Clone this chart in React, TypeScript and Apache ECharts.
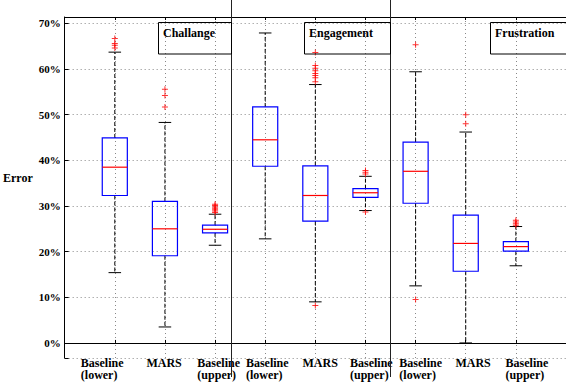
import { useEffect, useRef } from 'react';
import * as echarts from 'echarts';

// ---------- data ----------
const panelTitles = ['Challange', 'Engagement', 'Frustration'];
const groupLabels = ['Baseline\n(lower)', 'MARS', 'Baseline\n(upper)'];
const categories = [...groupLabels, ...groupLabels, ...groupLabels];

const lowerWhisker = [15.4, 3.5, 21.4, 22.8, 9.0, 29.0, 12.5, 0.0, 16.9];
const q1 = [32.3, 19.1, 24.1, 38.7, 26.7, 31.9, 30.6, 15.7, 20.1];
const median = [38.5, 25.0, 24.9, 44.5, 32.3, 32.9, 37.6, 21.8, 21.1];
const q3 = [44.9, 31.0, 25.8, 51.7, 38.8, 33.8, 44.0, 28.0, 22.2];
const upperWhisker = [63.7, 48.3, 28.2, 67.9, 56.6, 36.5, 59.4, 46.2, 25.5];
const outliers: number[][] = [
  [64.6, 65.2, 65.6, 66.7],
  [51.7, 54.2, 55.6],
  [28.6, 28.9, 29.2, 29.5, 29.8, 30.1, 30.4],
  [],
  [8.2, 57.2, 58.1, 58.6, 59.0, 59.6, 60.2, 60.8, 63.6],
  [28.7, 37.0, 37.4, 37.8],
  [9.5, 65.3],
  [48.0, 50.0],
  [25.8, 26.1, 26.5, 26.9],
];
const yTickValues = [0, 10, 20, 30, 40, 50, 60, 70];

// ---------- layout ----------
const W = 566;
const H = 390;
const FONT = 'Liberation Serif';
const GRID_LEFT = 48;
const GRID_TOP = 17;
const GRID_W = 522;
const GRID_H = 341;
const X_MAX = 10;
const Y_MIN = -3.3;
const Y_MAX = 71.4;
const BOX_HALF = 0.25;
const CAP_HALF = 0.125;
// left edge of each category label block relative to the box centre (px)
const labelDx = [-34, -18.5, -17.7, -19.3, -12.8, -15.5, -16.3, -10.3, -10.3];
const dividerX = [231.5, 390.5];
const titleBoxes = [
  { x: 158.5, w: 73 },
  { x: 304.5, w: 86 },
  { x: 490.5, w: 100 },
];

export default function App() {
  const ref = useRef<HTMLDivElement>(null);

  useEffect(() => {
    if (!ref.current) return;
    const chart = echarts.init(ref.current, null, { renderer: 'svg' });

    const boxData = categories.map((_, i) => [
      i + 1,
      lowerWhisker[i],
      q1[i],
      median[i],
      q3[i],
      upperWhisker[i],
    ]);
    const outlierData: number[][] = [];
    outliers.forEach((arr, i) => arr.forEach((v) => outlierData.push([i + 1, v])));

    const graphic: any[] = [];
    dividerX.forEach((x) => {
      graphic.push({
        type: 'line',
        shape: { x1: x, y1: 0, x2: x, y2: 377 },
        style: { stroke: '#222', lineWidth: 1 },
        z: 100,
      });
    });
    panelTitles.forEach((t, i) => {
      const b = titleBoxes[i];
      graphic.push({
        type: 'rect',
        shape: { x: b.x, y: 22.5, width: b.w, height: 31.5 },
        style: { fill: 'none', stroke: '#000', lineWidth: 1 },
        z: 100,
      });
      graphic.push({
        type: 'text',
        x: b.x + 4.5,
        y: 32.5,
        style: {
          text: t,
          fill: '#000',
          fontSize: 12,
          fontWeight: 'bold',
          fontFamily: FONT,
          verticalAlign: 'middle',
          align: 'left',
        },
        z: 100,
      });
    });

    const option: any = {
      animation: false,
      backgroundColor: '#fff',
      textStyle: { fontFamily: FONT },
      grid: { left: GRID_LEFT, top: GRID_TOP, width: GRID_W, height: GRID_H, containLabel: false },
      xAxis: [
        {
          type: 'value',
          min: 0,
          max: X_MAX,
          interval: 1,
          axisLine: { show: true, lineStyle: { color: '#000', width: 1 } },
          axisTick: { show: true, inside: true, length: 3, lineStyle: { color: '#000' } },
          splitLine: { show: true, lineStyle: { color: '#888', type: [1, 3], width: 1 } },
          axisLabel: { show: false },
        },
        {
          type: 'value',
          position: 'top',
          min: 0,
          max: X_MAX,
          interval: 1,
          axisLine: { show: true, lineStyle: { color: '#000', width: 1 } },
          axisTick: { show: true, inside: true, length: 3, lineStyle: { color: '#000' } },
          splitLine: { show: false },
          axisLabel: { show: false },
        },
      ],
      yAxis: {
        type: 'value',
        min: Y_MIN,
        max: Y_MAX,
        splitNumber: 7,
        minInterval: 10,
        maxInterval: 10,
        name: '{e|Error}',
        nameLocation: 'middle',
        nameRotate: 0,
        nameGap: 14,
        nameTextStyle: {
          fontFamily: FONT,
          fontWeight: 'bold',
          fontSize: 12,
          color: '#000',
          align: 'right',
          verticalAlign: 'middle',
          rich: {
            e: {
              fontFamily: FONT,
              fontWeight: 'bold',
              fontSize: 12,
              color: '#000',
              padding: [0, 0, 20, 0],
            },
          },
        },
        axisLine: { show: true, lineStyle: { color: '#000', width: 1 } },
        axisTick: { show: true, inside: true, length: 4, lineStyle: { color: '#000' } },
        splitLine: { show: true, lineStyle: { color: '#888', type: [1, 3], width: 1 } },
        axisLabel: {
          margin: 4,
          fontFamily: FONT,
          fontWeight: 'bold',
          fontSize: 11,
          color: '#000',
          formatter: (v: number) => {
            const r = Math.round(v);
            return Math.abs(v - r) < 1e-6 && yTickValues.includes(r) ? `${r}%` : '';
          },
        },
      },
      graphic,
      series: [
        {
          type: 'custom',
          xAxisIndex: 0,
          yAxisIndex: 0,
          clip: false,
          data: boxData,
          encode: { x: 0, y: [1, 2, 3, 4, 5] },
          renderItem: (params: any, api: any) => {
            const i = params.dataIndex;
            const x = api.value(0);
            const lw = api.value(1);
            const a = api.value(2);
            const m = api.value(3);
            const b = api.value(4);
            const uw = api.value(5);
            const pTL = api.coord([x - BOX_HALF, b]);
            const pBR = api.coord([x + BOX_HALF, a]);
            const pc = (vx: number, vy: number) => api.coord([vx, vy]);
            const dash = { stroke: '#000', lineWidth: 1, lineDash: [4, 2], fill: 'none' };
            const solid = { stroke: '#000', lineWidth: 1, fill: 'none' };
            const cx = pc(x, b)[0];
            const capL = pc(x - CAP_HALF, uw)[0];
            const capR = pc(x + CAP_HALF, uw)[0];
            const axisY = pc(x, Y_MIN)[1];
            return {
              type: 'group',
              children: [
                { type: 'line', shape: { x1: cx, y1: pc(x, b)[1], x2: cx, y2: pc(x, uw)[1] }, style: dash },
                { type: 'line', shape: { x1: cx, y1: pc(x, a)[1], x2: cx, y2: pc(x, lw)[1] }, style: dash },
                { type: 'line', shape: { x1: capL, y1: pc(x, uw)[1], x2: capR, y2: pc(x, uw)[1] }, style: solid },
                { type: 'line', shape: { x1: capL, y1: pc(x, lw)[1], x2: capR, y2: pc(x, lw)[1] }, style: solid },
                {
                  type: 'rect',
                  shape: { x: pTL[0], y: pTL[1], width: pBR[0] - pTL[0], height: pBR[1] - pTL[1] },
                  style: { stroke: '#0000ff', lineWidth: 1.2, fill: 'none' },
                },
                {
                  type: 'line',
                  shape: { x1: pTL[0], y1: pc(x, m)[1], x2: pBR[0], y2: pc(x, m)[1] },
                  style: { stroke: '#ff0000', lineWidth: 1.2 },
                },
                {
                  type: 'text',
                  x: cx + labelDx[i],
                  y: axisY - 1.5,
                  style: {
                    text: categories[i],
                    fill: '#000',
                    fontFamily: FONT,
                    fontSize: 12,
                    fontWeight: 'bold',
                    lineHeight: 12.5,
                    align: 'left',
                    verticalAlign: 'top',
                  },
                },
              ],
            };
          },
          z: 3,
        },
        {
          type: 'scatter',
          xAxisIndex: 0,
          yAxisIndex: 0,
          data: outlierData,
          symbol: 'path://M0,2.5H6V3.5H0Z M2.5,0H3.5V6H2.5Z',
          symbolSize: 6,
          itemStyle: { color: '#ff0000' },
          z: 4,
        },
      ],
    };

    chart.setOption(option);
    return () => chart.dispose();
  }, []);

  return (
    <div
      ref={ref}
      style={{ position: 'absolute', left: 0, top: 0, width: W, height: H, background: '#fff' }}
    />
  );
}
